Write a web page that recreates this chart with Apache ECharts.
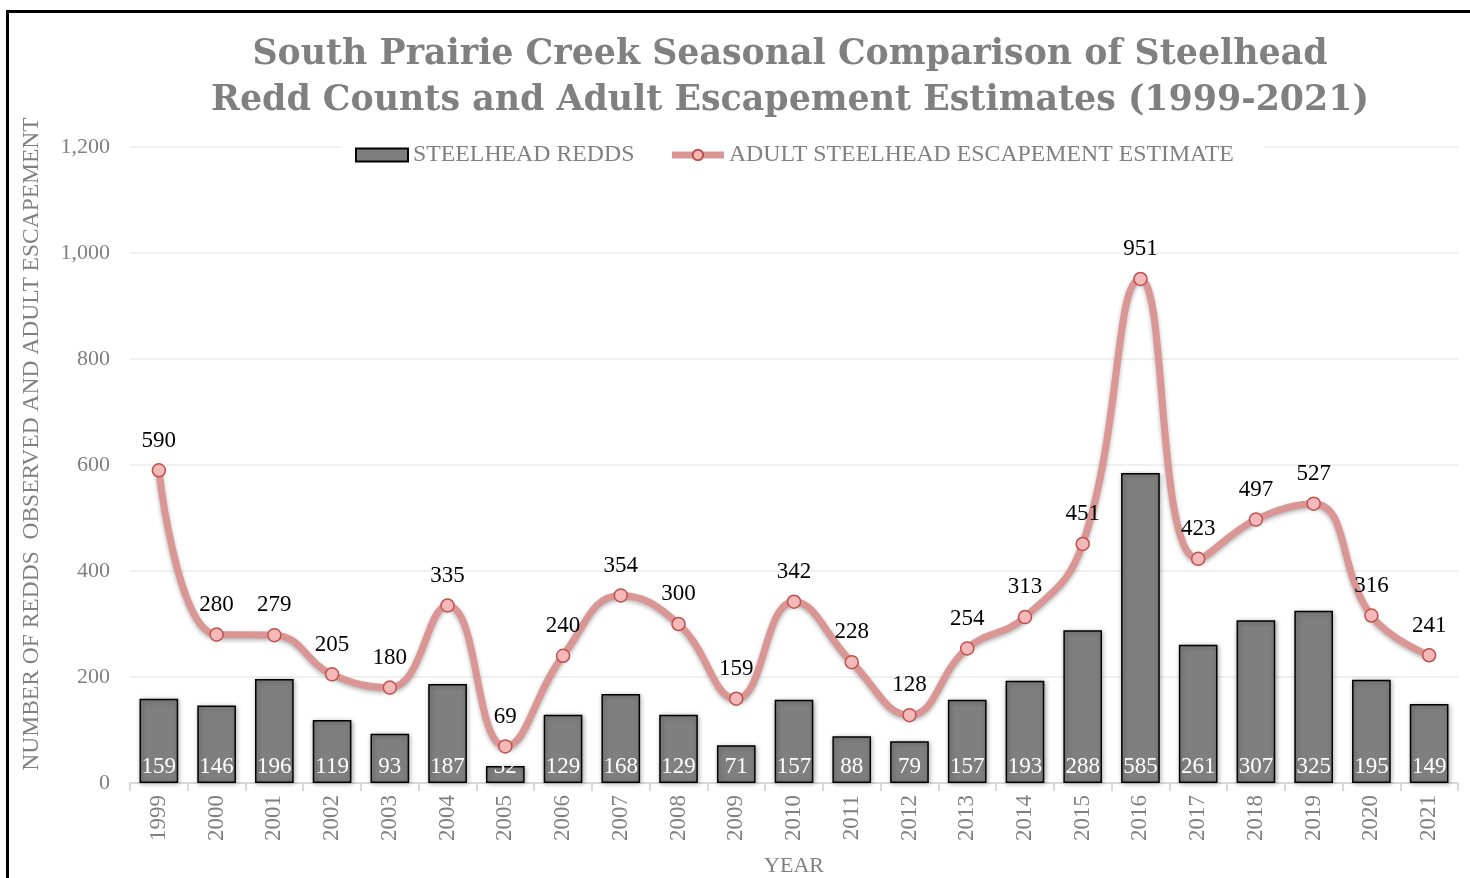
<!DOCTYPE html>
<html>
<head>
<meta charset="utf-8">
<script src="https://cdn.jsdelivr.net/npm/echarts@6/dist/echarts.min.js"></script>
<style>
html,body{margin:0;padding:0;background:#fff;overflow:hidden;}
#frame{position:absolute;left:6px;top:10px;width:1500px;height:900px;border-left:3px solid #000;border-top:3px solid #000;}
#chart{position:absolute;left:0;top:0;width:1470px;height:878px;}
</style>
</head>
<body>
<div id="frame"></div>
<div id="chart"></div>
<script>
const years = ['1999','2000','2001','2002','2003','2004','2005','2006','2007','2008','2009','2010','2011','2012','2013','2014','2015','2016','2017','2018','2019','2020','2021'];
const redds = [159,146,196,119,93,187,32,129,168,129,71,157,88,79,157,193,288,585,261,307,325,195,149];
const escapement = [590,280,279,205,180,335,69,240,354,300,159,342,228,128,254,313,451,951,423,497,527,316,241];
const yTicks = [0,200,400,600,800,1000,1200];

const serif = '"Liberation Serif", "DejaVu Serif", serif';
const chart = echarts.init(document.getElementById('chart'), null, {renderer:'canvas'});
chart.setOption({
  backgroundColor: 'transparent',
  animation: false,
  title: {
    text: 'South Prairie Creek Seasonal Comparison of Steelhead\nRedd Counts and Adult Escapement Estimates (1999-2021)',
    left: 785, textAlign: 'center', top: 27,
    textStyle: {fontFamily: '"DejaVu Serif", serif', fontWeight: 'bold', fontSize: 34.8, color: '#808080', lineHeight: 46}
  },
  legend: {
    top: 139, left: 341,
    backgroundColor: '#fff',
    padding: [4, 30, 4, 14],
    itemGap: 34,
    itemWidth: 52, itemHeight: 13,
    textStyle: {fontFamily: serif, fontSize: 23.8, color: '#808080'},
    data: [
      {name: 'STEELHEAD REDDS', icon: 'rect'},
      {name: 'ADULT STEELHEAD ESCAPEMENT ESTIMATE', lineStyle: {width: 7, color: '#d99694'}}
    ]
  },
  grid: {left: 130, right: 12, top: 147, bottom: 95, outerBoundsMode: 'none'},
  xAxis: {
    type: 'category', data: years,
    name: 'YEAR', nameLocation: 'middle', nameGap: 72,
    nameTextStyle: {fontFamily: serif, fontSize: 22, color: '#808080'},
    axisLine: {lineStyle: {color: '#d9d9d9', width: 2}},
    axisTick: {show: true, length: 8, lineStyle: {color: '#d9d9d9', width: 2}},
    axisLabel: {rotate: 90, fontFamily: serif, fontSize: 23, color: '#808080', margin: 12}
  },
  yAxis: {
    type: 'value', min: 0, max: 1200, interval: 200,
    name: 'NUMBER OF REDDS  OBSERVED AND ADULT ESCAPEMENT', nameLocation: 'middle', nameGap: 86,
    nameTextStyle: {fontFamily: serif, fontSize: 23.5, color: '#808080', padding: [0, 0, 0, 42]},
    axisLine: {show: false}, axisTick: {show: false},
    splitLine: {lineStyle: {color: '#ececec', width: 1.5}},
    axisLabel: {fontFamily: serif, fontSize: 22, color: '#808080', margin: 20,
      formatter: v => yTicks.includes(v) ? v.toLocaleString('en-US') : ''}
  },
  series: [
    {
      name: 'STEELHEAD REDDS', type: 'bar', data: redds,
      barCategoryGap: '33%',
      itemStyle: {color: '#7f7f7f', borderColor: '#000', borderWidth: 1.5,
        shadowColor: 'rgba(0,0,0,0.35)', shadowBlur: 5, shadowOffsetX: 1, shadowOffsetY: 1},
      label: {show: true, position: 'insideBottom', distance: 5, color: '#fff',
        fontFamily: serif, fontSize: 23}
    },
    {
      name: 'ADULT STEELHEAD ESCAPEMENT ESTIMATE', type: 'line', data: escapement,
      smooth: 0.45,
      symbol: 'circle', symbolSize: 13,
      lineStyle: {color: '#d99694', width: 7, shadowColor: 'rgba(0,0,0,0.3)', shadowBlur: 4, shadowOffsetY: 2},
      itemStyle: {color: '#f4b9b8', borderColor: '#c0504d', borderWidth: 1.5},
      label: {show: true, position: 'top', distance: 11, color: '#000',
        fontFamily: serif, fontSize: 23},
      z: 5
    }
  ]
});
</script>
</body>
</html>
